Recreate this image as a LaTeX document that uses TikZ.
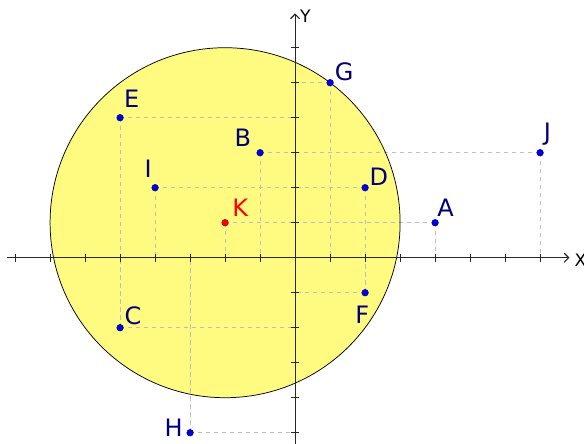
\documentclass[tikz,border=0pt]{standalone}
\usepackage{fontspec}
\setmainfont{DejaVu Sans}
\usetikzlibrary{arrows.meta,calc}
\definecolor{fillyel}{RGB}{255,250,128}
\definecolor{navy}{RGB}{0,0,120}
\definecolor{ptblue}{RGB}{0,0,230}
\definecolor{axisgray}{RGB}{40,40,40}
\definecolor{dashgray}{RGB}{190,190,190}
\tikzset{
  proj/.style={draw=dashgray, line width=0.6pt, dash pattern=on 3.5pt off 3pt},
  axisline/.style={draw=axisgray, line width=0.9pt, -{Straight Barb[length=1.3mm,width=2.6mm]}},
  tick/.style={draw=axisgray, line width=0.9pt},
  ptdot/.style={circle, inner sep=0pt, minimum size=0.19cm, fill=ptblue, draw=ptblue!60!black, line width=0.4pt},
  kdot/.style={circle, inner sep=0pt, minimum size=0.19cm, fill=red, draw=red!60!black, line width=0.4pt},
  lbl/.style={inner sep=0pt, text=navy, font=\fontsize{19.5}{20}\selectfont},
  klbl/.style={inner sep=0pt, text=red, font=\fontsize{19.5}{20}\selectfont},
  axlbl/.style={inner sep=0pt, text=black, font=\fontsize{14}{15}\selectfont}
}
\begin{document}
\begin{tikzpicture}[x=1cm,y=1cm]
\useasboundingbox (-8.431,-5.294) rectangle (8.254,7.363);
% circle fill
\fill[fillyel] (-2,1) circle (5);
% projection coordinates
\coordinate (Ex) at (-5,0); \coordinate (Ey) at (0,4);
\coordinate (Gx) at (1,0);  \coordinate (Gy) at (0,5);
\coordinate (Bx) at (-1,0); \coordinate (By) at (0,3);
\coordinate (Jx) at (7,0);  \coordinate (Jy) at (0,3);
\coordinate (Ix) at (-4,0); \coordinate (Iy) at (0,2);
\coordinate (Dx) at (2,0);  \coordinate (Dy) at (0,2);
\coordinate (Kx) at (-2,0); \coordinate (Ky) at (0,1);
\coordinate (Ax) at (4,0);  \coordinate (Ay) at (0,1);
\coordinate (Fx) at (2,0);  \coordinate (Fy) at (0,-1);
\coordinate (Cx) at (-5,0); \coordinate (Cy) at (0,-2);
\coordinate (Hx) at (-3,0); \coordinate (Hy) at (0,-5);
% point positions
\coordinate (pE) at (-5,4);
\coordinate (pG) at (1,5);
\coordinate (pB) at (-1,3);
\coordinate (pJ) at (7,3);
\coordinate (pI) at (-4,2);
\coordinate (pD) at (2,2);
\coordinate (pK) at (-2,1);
\coordinate (pA) at (4,1);
\coordinate (pF) at (2,-1);
\coordinate (pC) at (-5,-2);
\coordinate (pH) at (-3,-5);
% dashed projections
\foreach \p in {E,G,B,J,I,D,K,A,F,C,H}{
  \draw[proj] (p\p) -- (\p x);
  \draw[proj] (p\p) -- (\p y);
}
% circle outline
\draw[black, line width=0.6pt] (-2,1) circle (5);
% axes
\coordinate (xs) at (-8.22,0); \coordinate (xe) at (7.84,0);
\coordinate (ys) at (0,-5.35); \coordinate (ye) at (0,6.98);
\draw[axisline] (xs) -- (xe);
\draw[axisline] (ys) -- (ye);
\foreach \i in {-8,...,-1,1,2,...,7}{
  \draw[tick] (\i,-0.11) -- (\i,0.11);
}
\foreach \j in {-5,...,-1,1,2,...,6}{
  \draw[tick] (-0.11,\j) -- (0.11,\j);
}
\node[axlbl, anchor=west] (xl) at (7.98,-0.08) {X};
\node[axlbl, anchor=west] (yl) at (0.14,6.9) {Y};
% points
\node[ptdot] (E) at (pE) {};
\node[ptdot] (G) at (pG) {};
\node[ptdot] (B) at (pB) {};
\node[ptdot] (J) at (pJ) {};
\node[ptdot] (I) at (pI) {};
\node[ptdot] (D) at (pD) {};
\node[kdot]  (K) at (pK) {};
\node[ptdot] (A) at (pA) {};
\node[ptdot] (F) at (pF) {};
\node[ptdot] (C) at (pC) {};
\node[ptdot] (H) at (pH) {};
% labels
\node[lbl] (lE) at ($(pE)+(0.33,0.54)$) {E};
\node[lbl] (lG) at ($(pG)+(0.40,0.31)$) {G};
\node[lbl] (lB) at ($(pB)+(-0.49,0.43)$) {B};
\node[lbl] (lJ) at ($(pJ)+(0.21,0.52)$) {J};
\node[lbl] (lI) at ($(pI)+(-0.20,0.53)$) {I};
\node[lbl] (lD) at ($(pD)+(0.39,0.30)$) {D};
\node[klbl] (lK) at ($(pK)+(0.43,0.44)$) {K};
\node[lbl] (lA) at ($(pA)+(0.30,0.44)$) {A};
\node[lbl] (lF) at ($(pF)+(-0.08,-0.63)$) {F};
\node[lbl] (lC) at ($(pC)+(0.37,0.33)$) {C};
\node[lbl] (lH) at ($(pH)+(-0.47,0.15)$) {H};
\end{tikzpicture}
\end{document}
